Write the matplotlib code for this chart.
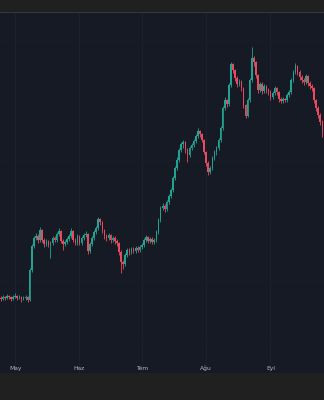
import matplotlib
matplotlib.use("Agg")
import matplotlib.pyplot as plt
import matplotlib.dates as mdates
from matplotlib.ticker import FuncFormatter
import numpy as np
import pandas as pd

# daily candles, Apr 24 -> Sep 27
start_date = "2024-04-24"

opens = [102, 101, 103, 102, 104, 103, 101, 103, 104, 102, 103, 101, 102, 103, 100, 130, 154, 162, 164, 160,
         170, 160, 156, 159, 155, 157, 162, 160, 166, 169, 159, 156, 158, 161, 164, 169, 160, 157, 164, 157,
         162, 165, 166, 149, 156, 162, 168, 172, 181, 178, 170, 164, 162, 165, 160, 162, 159, 157, 148, 138,
         136, 145, 150, 148, 151, 149, 152, 150, 153, 155, 160, 163, 159, 161, 158, 160, 168, 180, 192, 194,
         191, 198, 204, 210, 222, 232, 240, 250, 256, 258, 250, 245, 252, 255, 259, 264, 269, 266, 260, 248,
         237, 228, 232, 242, 248, 252, 260, 272, 292, 300, 296, 315, 336, 330, 322, 316, 318, 312, 295, 284,
         300, 320, 342, 338, 325, 310, 316, 309, 314, 310, 308, 303, 307, 312, 308, 301, 299, 301, 300, 305,
         308, 320, 328, 334, 328, 323, 320, 318, 324, 317, 314, 312, 300, 292, 285, 278, 268]
closes = [101, 103, 102, 104, 103, 101, 103, 104, 102, 103, 101, 102, 103, 100, 130, 154, 162, 164, 160, 170,
          160, 156, 159, 155, 157, 162, 160, 166, 169, 159, 156, 158, 161, 164, 169, 160, 157, 164, 157, 162,
          165, 166, 149, 156, 162, 168, 172, 181, 178, 170, 164, 162, 165, 160, 162, 159, 157, 148, 138, 136,
          145, 150, 148, 151, 149, 152, 150, 153, 155, 160, 163, 159, 161, 158, 160, 168, 180, 192, 194, 191,
          198, 204, 210, 222, 232, 240, 250, 256, 258, 250, 245, 252, 255, 259, 264, 269, 266, 260, 248, 237,
          228, 232, 242, 248, 252, 260, 272, 292, 300, 296, 315, 336, 330, 322, 316, 318, 312, 295, 284, 300,
          320, 342, 338, 325, 310, 316, 309, 314, 310, 308, 303, 307, 312, 308, 301, 299, 301, 300, 305, 308,
          320, 328, 334, 328, 323, 320, 318, 324, 317, 314, 312, 300, 292, 285, 278, 268, 274]
highs = [104, 105, 104, 106, 105, 104, 105, 107, 105, 105, 104, 104, 105, 104, 132, 156, 164, 167, 166, 173,
         171, 162, 161, 160, 159, 164, 164, 168, 172, 170, 161, 160, 163, 166, 172, 170, 162, 166, 165, 164,
         167, 169, 167, 158, 164, 170, 174, 183, 182, 179, 171, 166, 167, 166, 164, 164, 161, 158, 150, 140,
         147, 152, 152, 153, 153, 154, 154, 155, 157, 162, 165, 164, 163, 163, 162, 170, 182, 194, 197, 196,
         200, 206, 212, 224, 234, 243, 252, 258, 260, 259, 252, 254, 257, 261, 266, 272, 270, 267, 261, 249,
         239, 234, 244, 250, 254, 262, 274, 294, 303, 301, 317, 338, 337, 331, 324, 321, 320, 313, 296, 302,
         322, 353, 344, 339, 326, 318, 318, 316, 315, 312, 310, 309, 314, 313, 309, 303, 303, 302, 307, 310,
         322, 330, 337, 335, 330, 325, 322, 326, 325, 319, 316, 313, 301, 294, 287, 280, 276]
lows = [99, 100, 100, 101, 101, 99, 100, 102, 100, 101, 98, 100, 100, 98, 99, 128, 152, 160, 157, 158,
        158, 153, 154, 153, 142, 155, 158, 158, 164, 157, 150, 154, 156, 159, 162, 158, 155, 155, 155, 155,
        160, 163, 146, 147, 154, 160, 166, 170, 175, 167, 161, 159, 160, 157, 158, 156, 154, 145, 127, 131,
        134, 143, 145, 146, 147, 147, 148, 148, 151, 153, 158, 157, 157, 156, 156, 158, 166, 178, 190, 188,
        189, 196, 202, 208, 220, 230, 238, 248, 252, 247, 238, 243, 250, 253, 257, 262, 263, 258, 246, 234,
        225, 226, 230, 240, 245, 250, 258, 270, 290, 293, 294, 313, 327, 319, 313, 314, 309, 292, 282, 283,
        298, 318, 334, 322, 307, 308, 306, 307, 307, 305, 300, 301, 305, 305, 298, 297, 297, 298, 298, 303,
        306, 318, 326, 325, 320, 317, 315, 316, 314, 311, 309, 297, 289, 282, 275, 263, 266]

month_names = ["Oca", "Şub", "Mar", "Nis", "May", "Haz", "Tem", "Ağu", "Eyl", "Eki", "Kas", "Ara"]

UP = "#22a392"
DOWN = "#e94b5e"
BG = "#161a25"
BAR_BG = "#202020"

dates = pd.date_range(start_date, periods=len(closes), freq="D")
x = mdates.date2num(dates)
o = np.array(opens)
c = np.array(closes)
h = np.array(highs)
l = np.array(lows)
colors = np.where(c >= o, UP, DOWN)

fig = plt.figure(figsize=(3.24, 4.0), dpi=100, facecolor=BAR_BG)
ax = fig.add_axes([0, 27 / 400, 1, 361 / 400])
ax.set_facecolor(BG)

# wicks and bodies
ax.vlines(x, l, h, colors=colors, linewidth=0.6, zorder=2)
body = np.maximum(np.abs(c - o), 0.8)
ax.bar(x, body, bottom=np.minimum(o, c), width=0.75, color=colors, linewidth=0, zorder=3)

ax.set_xlim(x[0] - 0.3, x[0] + 155.8)
ax.set_ylim(27, 388)

ax.xaxis.set_major_locator(mdates.MonthLocator())
ax.xaxis.set_major_formatter(FuncFormatter(lambda v, pos: month_names[mdates.num2date(v).month - 1]))
ax.yaxis.set_major_locator(plt.MultipleLocator(60))
ax.grid(True, axis="x", color="#1c2030", linewidth=0.6, zorder=0)
ax.grid(True, axis="y", color="#191d29", linewidth=0.6, zorder=0)
ax.tick_params(axis="x", direction="in", length=0, pad=-1.5, labelsize=4.3, labelcolor="#b2b5be")
ax.tick_params(axis="y", left=False, labelleft=False)
for lbl in ax.get_xticklabels():
    lbl.set_verticalalignment("bottom")
for s in ax.spines.values():
    s.set_visible(False)

# top strip separator
fig.add_artist(plt.Line2D([0, 1], [1 - 11.5 / 400] * 2, color="#3a3636", linewidth=0.8))

fig.savefig("out.png", dpi=100, facecolor=fig.get_facecolor())
